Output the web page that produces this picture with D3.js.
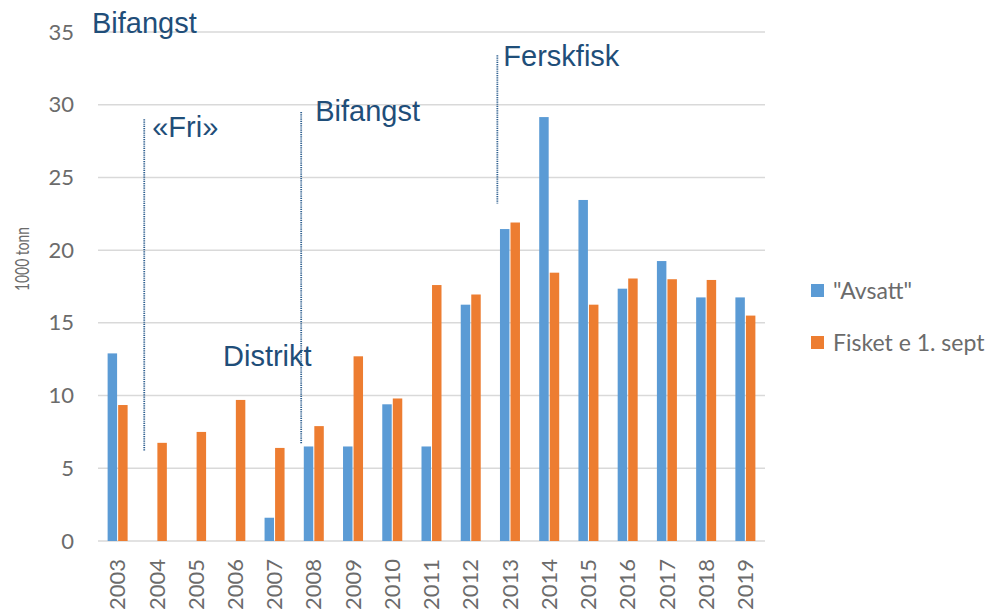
<!DOCTYPE html>
<html>
<head>
<meta charset="utf-8">
<script src="https://cdn.jsdelivr.net/npm/d3@7"></script>
<style>
  body { margin: 0; background: #fff; }
  svg { display: block; }
  .tick text { font-family: Lato, "Open Sans", sans-serif; fill: #6b6b6b; }
  .note { font-family: "Liberation Sans", Arial, sans-serif; fill: #1f4e79; font-size: 29px; }
</style>
</head>
<body>
<svg id="chart"></svg>
<script>
// years on the x axis
var years = ["2003", "2004", "2005", "2006", "2007", "2008", "2009", "2010", "2011",
  "2012", "2013", "2014", "2015", "2016", "2017", "2018", "2019"];

// 1000 tonn, null = no bar
var avsatt = [12.9, null, null, null, 1.6, 6.5, 6.5, 9.4, 6.5,
  16.25, 21.45, 29.15, 23.45, 17.35, 19.25, 16.75, 16.75];
var fisket = [9.35, 6.75, 7.5, 9.7, 6.4, 7.9, 12.7, 9.8, 17.6,
  16.95, 21.9, 18.45, 16.25, 18.05, 18.0, 17.95, 15.5];

var seriesNames = ['"Avsatt"', "Fisket e 1. sept"];
var seriesColors = ["#5b9bd5", "#ed7d31"];
var yTicks = [0, 5, 10, 15, 20, 25, 30, 35];

// regime notes: dotted line from/to (value), label baseline (value)
var notes = [
  { label: "«Fri»", year: "2004", from: 29.0, to: 6.2, labelAt: 27.8 },
  { label: "Bifangst", year: "2008", from: 29.5, to: 6.7, labelAt: 28.85 },
  { label: "Ferskfisk", year: "2013", from: 33.4, to: 23.2, labelAt: 32.65 },
];
var noteDx = [8, 14, 6];

var width = 995,
  height = 612;
var margin = { top: 32, right: 230, bottom: 71, left: 98 };

var svg = d3.select("#chart").attr("width", width).attr("height", height);

var x0 = d3
  .scaleBand()
  .domain(years)
  .range([margin.left, width - margin.right]);
var x1 = d3.scaleBand().domain([0, 1]).range([0, 20]).paddingInner(0.1);
var y = d3
  .scaleLinear()
  .domain([0, 35])
  .range([height - margin.bottom, margin.top]);

// gridlines
svg
  .append("g")
  .selectAll("line")
  .data(yTicks)
  .join("line")
  .attr("x1", margin.left)
  .attr("x2", width - margin.right)
  .attr("y1", (d) => y(d))
  .attr("y2", (d) => y(d))
  .attr("stroke", "#d9d9d9")
  .attr("stroke-width", 1.5);

// y axis
var yAxis = svg
  .append("g")
  .attr("transform", `translate(${margin.left - 24},0)`)
  .call(d3.axisLeft(y).tickValues(yTicks).tickSize(0).tickPadding(0));
yAxis.select(".domain").remove();
yAxis.selectAll("text").attr("font-size", 22);

svg
  .append("text")
  .attr("transform", "translate(29,259) rotate(-90)")
  .attr("text-anchor", "middle")
  .attr("font-family", "Lato, sans-serif")
  .attr("font-size", 20)
  .attr("textLength", 64)
  .attr("lengthAdjust", "spacingAndGlyphs")
  .attr("fill", "#6b6b6b")
  .text("1000 tonn");

// x axis
var xAxis = svg
  .append("g")
  .attr("transform", `translate(0,${height - margin.bottom})`)
  .call(d3.axisBottom(x0).tickSize(0).tickPadding(0));
xAxis.select(".domain").remove();
xAxis
  .selectAll("text")
  .attr("font-size", 22)
  .attr("text-anchor", "end")
  .attr("dy", "0.35em")
  .attr("transform", "translate(0,18) rotate(-90)");

// bars
var groupOffset = (x0.bandwidth() - 20) / 2;
var rows = years.map((yr, i) => ({ year: yr, values: [avsatt[i], fisket[i]] }));

svg
  .append("g")
  .selectAll("g")
  .data(rows)
  .join("g")
  .attr("transform", (d) => `translate(${x0(d.year) + groupOffset},0)`)
  .selectAll("rect")
  .data((d) => d.values.map((v, k) => ({ k: k, v: v })).filter((e) => e.v != null))
  .join("rect")
  .attr("x", (e) => x1(e.k))
  .attr("width", x1.bandwidth())
  .attr("y", (e) => y(e.v))
  .attr("height", (e) => y(0) - y(e.v))
  .attr("fill", (e) => seriesColors[e.k]);

// notes
var noteG = svg.append("g");
notes.forEach(function (n, i) {
  var lx = x0(n.year) + 7;
  noteG
    .append("line")
    .attr("x1", lx)
    .attr("x2", lx)
    .attr("y1", y(n.from))
    .attr("y2", y(n.to))
    .attr("stroke", "#2e5f8f")
    .attr("stroke-width", 1.8)
    .attr("stroke-dasharray", "1.2,1");
  noteG
    .append("text")
    .attr("class", "note")
    .attr("x", lx + noteDx[i])
    .attr("y", y(n.labelAt))
    .text(n.label);
});
noteG.append("text").attr("class", "note").attr("x", 92).attr("y", 33).text("Bifangst");
noteG.append("text").attr("class", "note").attr("x", 223).attr("y", 366).text("Distrikt");

// legend
var legend = svg
  .append("g")
  .selectAll("g")
  .data(seriesNames)
  .join("g")
  .attr("transform", (d, i) => `translate(811,${284 + i * 52})`);
legend
  .append("rect")
  .attr("width", 13)
  .attr("height", 13)
  .attr("fill", (d, i) => seriesColors[i]);
legend
  .append("text")
  .attr("x", 22)
  .attr("y", 7)
  .attr("dy", "0.35em")
  .attr("font-family", "Lato, sans-serif")
  .attr("font-size", 23)
  .attr("fill", "#6b6b6b")
  .text((d) => d);
</script>
</body>
</html>
